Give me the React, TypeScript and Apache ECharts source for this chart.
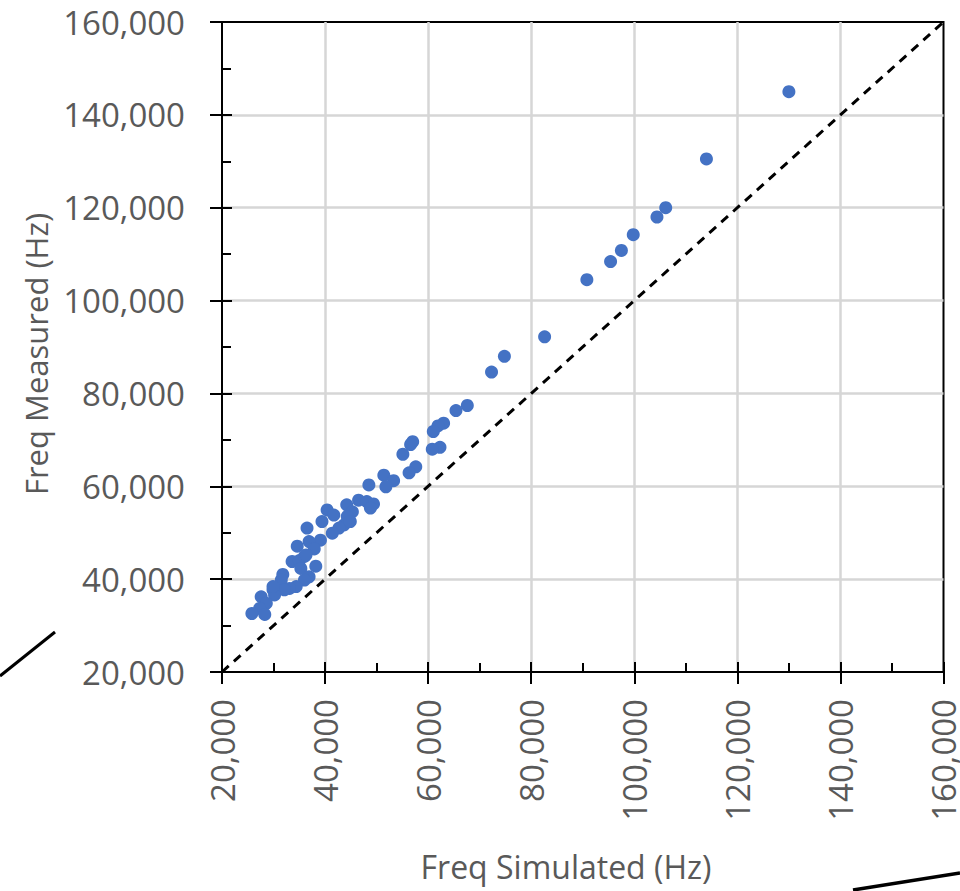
import React, { useEffect, useRef } from "react";
import * as echarts from "echarts";

// Frequency pairs (Hz)
const simulatedHz = [
  130000, 114000, 106100, 104400, 99800, 97500, 95400, 90800, 82600, 74800,
  72300, 67600, 65400, 63000, 61900, 61000, 62300, 60800, 57000, 56600,
  55100, 57600, 56300, 51400, 53300, 51800, 48500,
  44200, 46500, 48100, 49400, 48800, 45300, 44300, 43700, 44900, 42700,
  41400, 40400, 41700, 39400, 39100, 36500, 36900, 37900, 34600, 33600,
  35000, 36000, 35300, 38200, 36900, 36000, 34400, 33100, 31800, 31500,
  32100, 29900, 30200, 27600, 28600, 27300, 25800, 28300, 36300, 29900,
];
const measuredHz = [
  145000, 130500, 120000, 118000, 114200, 110800, 108400, 104500, 92200, 88000,
  84600, 77400, 76300, 73600, 73000, 71800, 68400, 68000, 69600, 69000,
  66900, 64200, 62900, 62400, 61200, 59900, 60300,
  56000, 57000, 56700, 56200, 55300, 54500, 53500, 51700, 52400, 51000,
  49900, 54900, 53800, 52400, 48400, 51000, 48100, 46500, 47100, 43800,
  44000, 44900, 42300, 42800, 40500, 39800, 38400, 38000, 41000, 39800,
  37700, 37700, 36600, 36200, 34800, 33700, 32600, 32400, 45200, 38400,
];

// Parity (y = x) reference line endpoints
const parityLine = [
  [20000, 20000],
  [160000, 160000],
];

const axisMin = 20000;
const axisMax = 160000;
const axisStep = 20000;

const xTitle = "Freq Simulated (Hz)";
const yTitle = "Freq Measured (Hz)";

const FONT = "Open Sans";
const TEXT_COLOR = "#595959";

const fmt = (v: number) => Number(v).toLocaleString("en-US");

export default function App() {
  const ref = useRef<HTMLDivElement>(null);

  useEffect(() => {
    document.body.style.margin = "0";
    const chart = echarts.init(ref.current as HTMLDivElement, null, {
      renderer: "svg",
    });

    const black = { color: "#000", width: 2 };

    const mainAxis = (isX: boolean) => ({
      type: "value",
      min: axisMin,
      max: axisMax,
      interval: axisStep,
      position: isX ? "bottom" : "left",
      axisLine: { show: true, onZero: false, lineStyle: black },
      axisTick: { show: true, inside: false, length: 12, lineStyle: black },
      axisLabel: {
        show: true,
        rotate: isX ? 90 : 0,
        margin: isX ? 27 : 37,
        fontSize: 33,
        color: TEXT_COLOR,
        fontFamily: FONT,
        showMinLabel: true,
        showMaxLabel: true,
        formatter: fmt,
      },
      splitLine: {
        show: true,
        showMinLine: false,
        showMaxLine: false,
        lineStyle: { color: "#d6d6d6", width: 2.5 },
      },
    });

    const innerTickAxis = (isX: boolean) => ({
      type: "value",
      min: axisMin,
      max: axisMax,
      interval: axisStep,
      position: isX ? "bottom" : "left",
      axisLine: { show: false, onZero: false },
      axisLabel: { show: false },
      splitLine: { show: false },
      axisTick: { show: true, inside: true, length: 10, lineStyle: black },
      minorTick: { show: true, splitNumber: 2, length: 9, lineStyle: black },
    });

    chart.setOption({
      animation: false,
      grid: {
        left: 222,
        right: 11,
        top: 22,
        bottom: 219,
        show: true,
        borderColor: "#000",
        borderWidth: 2,
        backgroundColor: "transparent",
      },
      xAxis: [mainAxis(true), innerTickAxis(true)],
      yAxis: [mainAxis(false), innerTickAxis(false)],
      series: [
        {
          type: "line",
          data: parityLine,
          xAxisIndex: 0,
          yAxisIndex: 0,
          symbol: "none",
          silent: true,
          z: 2,
          lineStyle: { color: "#000", width: 3, type: [9, 7] },
        },
        {
          type: "scatter",
          xAxisIndex: 0,
          yAxisIndex: 0,
          data: simulatedHz.map((x, i) => [x, measuredHz[i]]),
          symbol: "circle",
          symbolSize: 13,
          z: 3,
          itemStyle: { color: "#4472C4", opacity: 1 },
        },
      ],
      graphic: [
        {
          type: "text",
          x: 566,
          y: 866,
          style: {
            text: xTitle,
            fontSize: 32,
            fontFamily: FONT,
            fill: TEXT_COLOR,
            align: "center",
            verticalAlign: "middle",
          },
        },
        {
          type: "text",
          x: 36,
          y: 354,
          rotation: Math.PI / 2,
          style: {
            text: yTitle,
            fontSize: 31,
            fontFamily: FONT,
            fill: TEXT_COLOR,
            align: "center",
            verticalAlign: "middle",
          },
        },
        {
          type: "line",
          shape: { x1: 0, y1: 676, x2: 55, y2: 632 },
          style: { stroke: "#000", lineWidth: 3 },
        },
        {
          type: "line",
          shape: { x1: 853, y1: 890, x2: 960, y2: 873 },
          style: { stroke: "#000", lineWidth: 3.5 },
        },
      ],
    });

    return () => chart.dispose();
  }, []);

  return <div ref={ref} style={{ width: 960, height: 891 }} />;
}
